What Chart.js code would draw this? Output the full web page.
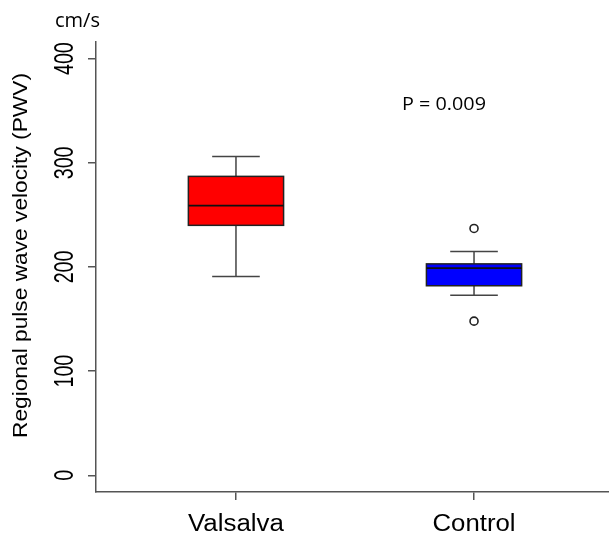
<!DOCTYPE html>
<html>
<head>
<meta charset="utf-8">
<script src="https://cdn.jsdelivr.net/npm/chart.js@4.4.1/dist/chart.umd.min.js"></script>
<style>
  body { margin: 0; background: #fff; }
  #wrap { width: 609px; height: 536px; }
</style>
</head>
<body>
<div id="wrap"><canvas id="box" width="609" height="536"></canvas></div>
<script>
// box plot values (cm/s)
const groups = ['Valsalva', 'Control'];
const whiskerLow = [191, 173];
const q1 = [240, 182];
const median = [259, 199];
const q3 = [287, 203];
const whiskerHigh = [306, 215];
const outliers = [[], [237, 148]];
const boxColors = ['#ff0000', '#0000ff'];
const yTicks = [0, 100, 200, 300, 400];
const yTitle = 'Regional pulse wave velocity (PWV)';
const unitText = 'cm/s';
const pText = 'P = 0.009';

let outlierPts = [];
for (let i = 0; i < groups.length; i++) {
    for (let j = 0; j < outliers[i].length; j++) {
        outlierPts.push({ x: i + 1, y: outliers[i][j] });
    }
}

// text stretched to a given length, like the original figure
function putText(ctx, text, x, y, font, len, rot) {
    ctx.save();
    ctx.translate(x, y);
    if (rot) ctx.rotate(-Math.PI / 2);
    ctx.font = font;
    let w = ctx.measureText(text).width;
    ctx.scale(len / w, 1);
    ctx.textAlign = 'center';
    ctx.textBaseline = 'alphabetic';
    ctx.fillStyle = '#000';
    ctx.fillText(text, 0, 0);
    ctx.restore();
}

const boxPlugin = {
    id: 'boxes',
    beforeDatasetsDraw(chart) {
        let ctx = chart.ctx;
        let xs = chart.scales.x, ys = chart.scales.y;
        ctx.save();
        for (let i = 0; i < groups.length; i++) {
            let c = xs.getPixelForValue(i + 1);
            let l = xs.getPixelForValue(i + 1 - 0.2), r = xs.getPixelForValue(i + 1 + 0.2);
            let cl = xs.getPixelForValue(i + 1 - 0.1), cr = xs.getPixelForValue(i + 1 + 0.1);
            // whiskers
            ctx.strokeStyle = '#444';
            ctx.lineWidth = 1.5;
            ctx.beginPath();
            ctx.moveTo(c, ys.getPixelForValue(whiskerHigh[i]));
            ctx.lineTo(c, ys.getPixelForValue(q3[i]));
            ctx.moveTo(c, ys.getPixelForValue(q1[i]));
            ctx.lineTo(c, ys.getPixelForValue(whiskerLow[i]));
            ctx.moveTo(cl, ys.getPixelForValue(whiskerHigh[i]));
            ctx.lineTo(cr, ys.getPixelForValue(whiskerHigh[i]));
            ctx.moveTo(cl, ys.getPixelForValue(whiskerLow[i]));
            ctx.lineTo(cr, ys.getPixelForValue(whiskerLow[i]));
            ctx.stroke();
            // box
            let top = ys.getPixelForValue(q3[i]), bot = ys.getPixelForValue(q1[i]);
            ctx.fillStyle = boxColors[i];
            ctx.fillRect(l, top, r - l, bot - top);
            ctx.strokeStyle = '#222';
            ctx.strokeRect(l, top, r - l, bot - top);
            // median
            ctx.strokeStyle = '#111';
            ctx.lineWidth = 1.8;
            ctx.beginPath();
            ctx.moveTo(l, ys.getPixelForValue(median[i]));
            ctx.lineTo(r, ys.getPixelForValue(median[i]));
            ctx.stroke();
        }
        ctx.restore();
    },
    afterDraw(chart) {
        let ctx = chart.ctx;
        let xs = chart.scales.x, ys = chart.scales.y;
        // y tick labels, rotated like base R
        for (let t of yTicks) {
            let w = 10.9 * String(t).length;
            putText(ctx, String(t), 72.5, ys.getPixelForValue(t), '27px "Liberation Sans"', w, true);
        }
        // category labels
        let lens = [96, 83];
        for (let i = 0; i < groups.length; i++) {
            putText(ctx, groups[i], xs.getPixelForValue(i + 1), 531, '23px "Liberation Sans"', lens[i], false);
        }
        putText(ctx, yTitle, 27, 255.5, '19.5px "Liberation Sans"', 365, true);
        putText(ctx, unitText, 77.5, 27, '20px "Open Sans"', 45, false);
        putText(ctx, pText, 444, 110, '18.6px "Open Sans"', 84, false);
    }
};

let cxt = document.getElementById('box');
new Chart(cxt, {
    type: 'scatter',
    data: {
        datasets: [{
            label: 'outliers',
            data: outlierPts,
            pointRadius: 4,
            pointBorderWidth: 1.6,
            pointBorderColor: '#222',
            pointBackgroundColor: '#fff'
        }]
    },
    options: {
        responsive: false,
        animation: false,
        layout: { autoPadding: false, padding: { top: 42, left: 0, right: 0, bottom: 0 } },
        plugins: { legend: { display: false }, tooltip: { enabled: false } },
        scales: {
            x: {
                type: 'linear',
                min: 0.412,
                max: 2.567,
                afterBuildTicks: (s) => { s.ticks = groups.map((g, i) => ({ value: i + 1 })); },
                afterFit: (s) => { s.height = 44; },
                ticks: { display: false },
                grid: { drawOnChartArea: false, drawTicks: true, tickLength: 8, color: '#555', lineWidth: 1.5 },
                border: { display: true, color: '#555', width: 1.5 }
            },
            y: {
                min: -16,
                max: 416,
                afterBuildTicks: (s) => { s.ticks = yTicks.map(v => ({ value: v })); },
                afterFit: (s) => { s.width = 96; },
                ticks: { display: false },
                grid: { drawOnChartArea: false, drawTicks: true, tickLength: 8, color: '#555', lineWidth: 1.5 },
                border: { display: true, color: '#555', width: 1.5 }
            }
        }
    },
    plugins: [boxPlugin]
});
</script>
</body>
</html>
